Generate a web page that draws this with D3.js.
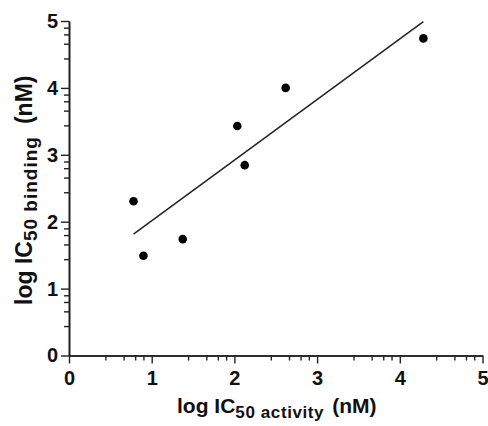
<!DOCTYPE html>
<html>
<head>
<meta charset="utf-8">
<script src="https://cdn.jsdelivr.net/npm/d3@7"></script>
<style>
  html, body { margin: 0; padding: 0; background: #fff; }
  svg { display: block; }
  text { font-family: "Liberation Sans", Arial, sans-serif; font-weight: bold; fill: #111; }
</style>
</head>
<body>
<svg id="chart" width="488" height="426"></svg>
<script>
// log IC50 activity (x) vs log IC50 binding (y), both in nM
const logActivity = [0.78, 0.90, 1.375, 2.035, 2.125, 2.62, 4.285];
const logBinding  = [2.305, 1.49, 1.74, 3.43, 2.845, 4.0, 4.74];

const xTicks = [0, 1, 2, 3, 4, 5];
const yTicks = [0, 1, 2, 3, 4, 5];
// minor tick positions inside each unit interval
const minorOffsets = [0.44, 0.66, 0.80, 0.90];

const svg = d3.select("#chart");
const x = d3.scaleLinear().domain([0, 5]).range([69, 482.5]);
const y = d3.scaleLinear().domain([0, 5]).range([355.5, 21]);

const minorX = d3.range(0, 5).flatMap(i => minorOffsets.map(o => i + o));
const minorY = d3.range(0, 5).flatMap(i => minorOffsets.map(o => i + o));

// axes
const axisColor = "#222";
const gx = svg.append("g").attr("transform", `translate(0,${y(0)})`);
gx.call(d3.axisBottom(x).tickValues(xTicks).tickFormat(d3.format("d")).tickSize(8).tickSizeOuter(0).tickPadding(7));
gx.append("g").call(d3.axisBottom(x).tickValues(minorX).tickFormat("").tickSize(5).tickSizeOuter(0));

const gy = svg.append("g").attr("transform", `translate(${x(0)},0)`);
gy.call(d3.axisLeft(y).tickValues(yTicks).tickFormat(d3.format("d")).tickSize(8).tickSizeOuter(0).tickPadding(3));
gy.append("g").call(d3.axisLeft(y).tickValues(minorY).tickFormat("").tickSize(5).tickSizeOuter(0));

svg.selectAll(".domain").attr("stroke", axisColor).attr("stroke-width", 1.6);
svg.selectAll(".tick line").attr("stroke", axisColor).attr("stroke-width", 1.4);
svg.selectAll(".tick text")
  .attr("font-size", 20)
  .attr("font-family", "Liberation Sans, Arial, sans-serif")
  .attr("font-weight", "bold")
  .attr("fill", "#111");

// least-squares regression line across the data range
const n = logActivity.length;
const mx = d3.mean(logActivity), my = d3.mean(logBinding);
let sxy = 0, sxx = 0;
for (let i = 0; i < n; i++) {
  sxy += (logActivity[i] - mx) * (logBinding[i] - my);
  sxx += (logActivity[i] - mx) ** 2;
}
const slope = sxy / sxx, intercept = my - slope * mx;
const [x0, x1] = d3.extent(logActivity);
svg.append("line")
  .attr("x1", x(x0)).attr("y1", y(intercept + slope * x0))
  .attr("x2", x(x1)).attr("y2", y(intercept + slope * x1))
  .attr("stroke", "#222").attr("stroke-width", 1.5);

// data points
svg.selectAll("circle.pt")
  .data(logActivity.map((v, i) => [v, logBinding[i]]))
  .join("circle")
  .attr("class", "pt")
  .attr("cx", d => x(d[0]))
  .attr("cy", d => y(d[1]))
  .attr("r", 4.3)
  .attr("fill", "#000");

// axis titles
const xTitle = svg.append("text")
  .attr("x", (x(0) + x(5)) / 2 + 1)
  .attr("y", 413)
  .attr("text-anchor", "middle")
  .attr("font-size", 21);
xTitle.append("tspan").text("log IC");
xTitle.append("tspan").attr("font-size", 17).attr("dy", 5).attr("letter-spacing", 0.6).text("50 activity");
xTitle.append("tspan").attr("dy", -5).attr("dx", 8).text("(nM)");

const yTitle = svg.append("text")
  .attr("transform", `translate(32,${(y(0) + y(5)) / 2 + 2}) rotate(-90)`)
  .attr("text-anchor", "middle")
  .attr("font-size", 23);
yTitle.append("tspan").text("log IC");
yTitle.append("tspan").attr("font-size", 19).attr("dy", 5).attr("letter-spacing", 1).text("50 binding");
yTitle.append("tspan").attr("dy", -5).attr("dx", 12).text("(nM)");
</script>
</body>
</html>
